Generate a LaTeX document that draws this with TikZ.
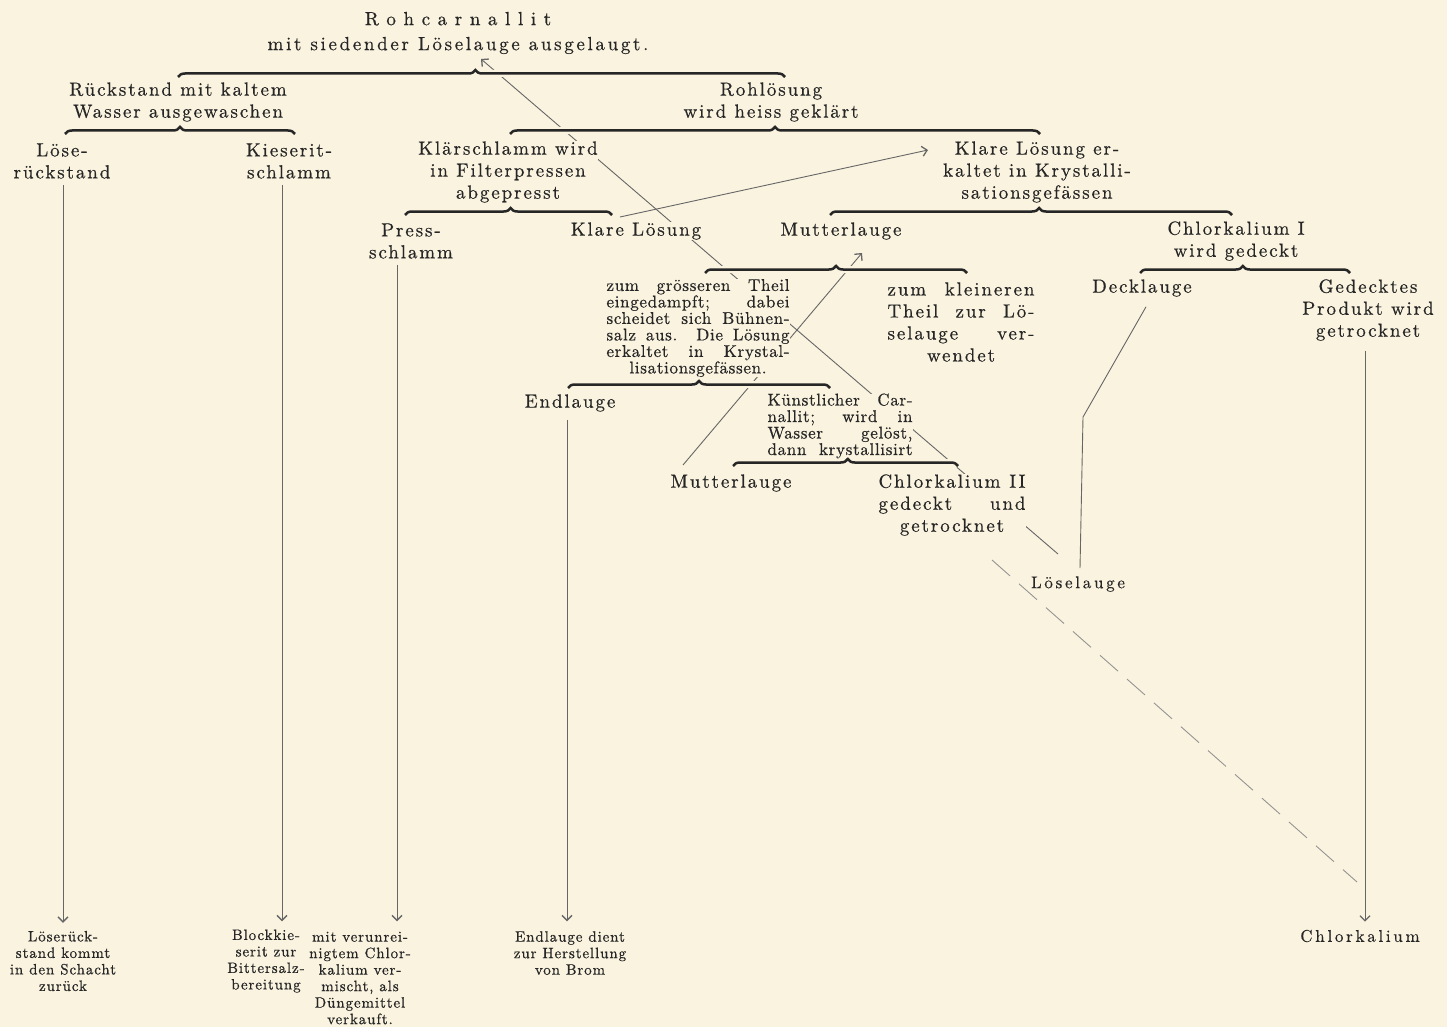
\documentclass[tikz,border=0pt]{standalone}
\usepackage{fontspec}
\usetikzlibrary{arrows.meta,decorations.pathreplacing,calc}

% Schriften: gesperrter Satz wie im alten Druck
\newfontfamily\fgross{lmroman10-regular.otf}[LetterSpace=10, FakeBold=0.5]
\newfontfamily\ftitel{lmroman10-regular.otf}[LetterSpace=14, FakeBold=0.5]
\newfontfamily\fweit{lmroman10-regular.otf}[LetterSpace=40, FakeBold=0.5]
\newfontfamily\fmittel{lmroman10-regular.otf}[LetterSpace=16, FakeBold=0.4]
\newfontfamily\fklein{lmroman10-regular.otf}[LetterSpace=4, FakeBold=0.6]
\newfontfamily\funten{lmroman10-regular.otf}[LetterSpace=6, FakeBold=0.6]

\definecolor{papier}{HTML}{FAF3DF}
\definecolor{tinte}{HTML}{262626}
\definecolor{linie}{HTML}{666666}

\pgfdeclarelayer{grund}
\pgfdeclarelayer{linien}
\pgfsetlayers{grund,linien,main}

% Zeile auf feste Breite ausgetrieben
\newcommand\zeile[2]{\makebox[#1pt][s]{#2}}

\tikzset{
  gross/.style={font=\fgross\fontsize{19}{22}\selectfont, text=tinte, fill=papier, inner sep=0pt, align=center},
  mittel/.style={gross, font=\fmittel\fontsize{17}{20}\selectfont},
  klein/.style={gross, font=\fklein\fontsize{17}{16.5}\selectfont},
  unten/.style={gross, font=\funten\fontsize{15}{16.5}\selectfont},
  fluss/.style={draw=linie, line width=0.9pt},
  pfeil/.style={fluss, -{Straight Barb[length=5pt,width=10pt,line width=1.3pt]}},
  klammer/.style={decorate, decoration={brace, amplitude=7pt, aspect=#1}, draw=tinte, line width=2.5pt},
}

\begin{document}
\begin{tikzpicture}[x=1pt, y=-1pt]
    \useasboundingbox (0,0) rectangle (1447,1027);
    \begin{pgfonlayer}{grund}
        \fill[papier] (0,0) rectangle (1447,1027);
    \end{pgfonlayer}

    % Rohsalz
    \node[gross, font=\ftitel\fontsize{19}{25}\selectfont] (titel) at (458,33)
        {{\fweit Rohcarnallit}\\mit siedender Löselauge ausgelaugt.};

    % erste Teilung
    \node[gross] (rueck) at (178,102) {Rückstand mit kaltem\\Wasser ausgewaschen};
    \node[gross] (roh) at (771,102) {Rohlösung\\wird heiss geklärt};
    \node[gross] (loese) at (62,161) {Löse-\\rückstand};
    \node[gross] (kies) at (289,161) {Kieserit-\\schlamm};
    \node[gross] (klaer) at (508,172) {Klärschlamm wird\\in Filterpressen\\abgepresst};
    \node[gross] (klarerk) at (1037,172) {Klare Lösung er-\\kaltet in Krystalli-\\sationsgefässen};

    % zweite Teilung
    \node[gross] (press) at (411,241) {Press-\\schlamm};
    \node[gross] (klar) at (636,231) {Klare Lösung};
    \node[gross] (mutter) at (841,231) {Mutterlauge};
    \node[gross] (chlorI) at (1236,241) {Chlorkalium I\\wird gedeckt};

    \node[klein] (groesser) at (698,328) {\zeile{183}{zum grösseren Theil}\\
        \zeile{183}{eingedampft; dabei}\\\zeile{183}{scheidet sich Bühnen-}\\
        \zeile{183}{salz aus. Die Lösung}\\\zeile{183}{erkaltet in Krystal-}\\
        lisationsgefässen.};
    \node[gross] (kleiner) at (961,322) {\zeile{147}{zum kleineren}\\
        \zeile{147}{Theil zur Lö-}\\\zeile{147}{selauge ver-}\\wendet};
    \node[gross] (deck) at (1142,288) {Decklauge};
    \node[gross] (gedeckt) at (1368,310) {Gedecktes\\Produkt wird\\getrocknet};

    \node[gross] (endl) at (570,403) {Endlauge};
    \node[klein] (kuenst) at (840,426) {\zeile{145}{Künstlicher Car-}\\
        \zeile{145}{nallit; wird in}\\\zeile{145}{Wasser gelöst,}\\
        \zeile{145}{dann krystallisirt}};
    \node[gross] (mutter2) at (731,483) {Mutterlauge};
    \node[gross] (chlorII) at (952,505) {\zeile{147}{Chlorkalium II}\\
        \zeile{147}{gedeckt und}\\getrocknet};
    \node[mittel] (loeselauge) at (1078,584) {Löselauge};

    % Endprodukte
    \node[unten] (loeseB) at (63,961) {Löserück-\\stand kommt\\in den Schacht\\zurück};
    \node[unten] (blockB) at (266,961) {Blockkie-\\serit zur\\Bittersalz-\\bereitung};
    \node[unten] (duengerB) at (360,978)
        {mit verunrei-\\nigtem Chlor-\\kalium ver-\\mischt, als\\Düngemittel\\verkauft.};
    \node[unten] (bromB) at (570,953) {Endlauge dient\\zur Herstellung\\von Brom};
    \node[mittel] (chlorB) at (1360,936) {Chlorkalium};

    % Klammern (mit Papierrand, damit die Linien unterbrochen werden)
    \foreach \xa/\xb/\yy/\asp in {178/785/77/0.49, 65/295/134/0.5, 510/1040/134/0.5,
        405/612/215/0.51, 830/1232/215/0.52, 705/967/273/0.5, 1140/1350/273/0.49,
        568/830/388/0.5, 733/958/466/0.51} {
        \draw[klammer=\asp, draw=papier, line width=7pt] (\xa,\yy) -- (\xb,\yy);
        \draw[klammer=\asp] (\xa,\yy) -- (\xb,\yy);
    }

    \begin{pgfonlayer}{linien}
        % Löselauge zurück zum Auslaugen
        \coordinate (lsEnde) at (1058,554);
        \coordinate (lsSpitze) at (481,59);
        \draw[pfeil] (lsEnde) -- (lsSpitze);

        % klare Lösung aus den Filterpressen
        \coordinate (klarAus) at (620,217);
        \coordinate (klarEin) at (928,150);
        \draw[pfeil] (klarAus) -- (klarEin);

        % Mutterlauge zurück
        \coordinate (mlAus) at (683,465);
        \coordinate (mlEin) at (862,253);
        \draw[pfeil] (mlAus) -- (mlEin);

        % Decklauge zur Löselauge
        \draw[fluss] ($(deck.south)+(4,10)$) -- (1083,417) -- ($(loeselauge.north)+(2,-8)$);

        % Chlorkalium II zum Chlorkalium
        \coordinate (ckAus) at (992,560);
        \coordinate (ckEin) at (1357,882);
        \draw[fluss, linie!70, dash pattern=on 24pt off 12pt] (ckAus) -- (ckEin);

        % senkrechte Wege zu den Endprodukten
        \draw[pfeil] ($(loese.south)+(1,6)$) -- ($(loese.south |- loeseB.north)+(1,-8)$);
        \draw[pfeil] ($(kies.south)+(-7,6)$) -- ($(kies.south |- blockB.north)+(-7,-8)$);
        \draw[pfeil] ($(press.south)+(-14,6)$) -- ($(press.south |- blockB.north)+(-14,-8)$);
        \draw[pfeil] ($(endl.south)+(-3,8)$) -- ($(endl.south |- blockB.north)+(-3,-8)$);
        \draw[pfeil] ($(gedeckt.south)+(-3,10)$) -- ($(gedeckt.south |- chlorB.north)+(-3,-8)$);
    \end{pgfonlayer}
\end{tikzpicture}
\end{document}
